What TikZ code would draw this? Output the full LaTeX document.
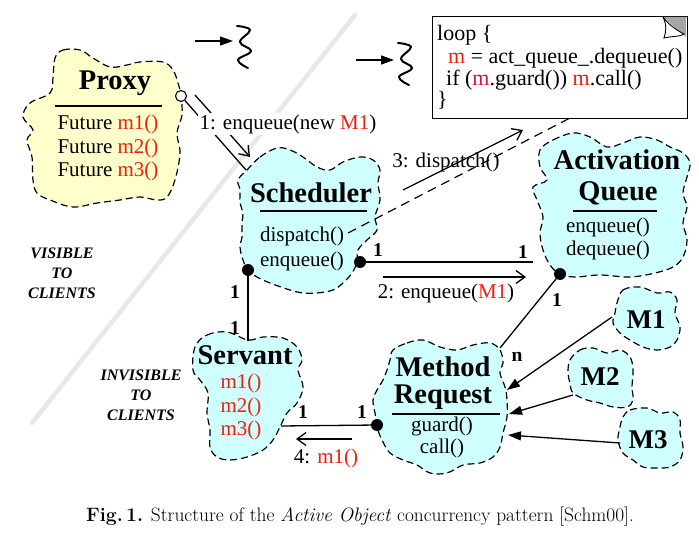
\documentclass[tikz,border=0pt]{standalone}
\usepackage{fontspec}
\newfontfamily\tms{Liberation Serif}
\usetikzlibrary{arrows.meta}
\definecolor{pfill}{RGB}{255,255,204}
\definecolor{cfill}{RGB}{208,255,255}
\definecolor{mred}{RGB}{240,30,10}
\definecolor{mmag}{RGB}{215,20,70}
\begin{document}
\begin{tikzpicture}[x=1pt,y=-1pt,
  blob/.style={draw=black, line width=1.2pt, dash pattern=on 7pt off 4pt},
  ttl/.style={font=\tms\bfseries\fontsize{28.5}{30}\selectfont, inner sep=0pt},
  mlab/.style={font=\tms\bfseries\fontsize{27}{29}\selectfont, inner sep=0pt},
  txt/.style={font=\tms\fontsize{21}{23.5}\selectfont, inner sep=0pt},
  code/.style={font=\tms\fontsize{22}{24}\selectfont, inner sep=0pt, anchor=west},
  mult/.style={font=\tms\bfseries\fontsize{19.5}{20}\selectfont, inner sep=0pt},
  side/.style={font=\tms\bfseries\itshape\fontsize{16}{19.8}\selectfont, align=center, inner sep=0pt},
  conn/.style={line width=1.3pt},
  msg/.style={line width=1.3pt, -{Straight Barb[length=9pt,width=13pt,line width=1.3pt]}},
  tri/.style={line width=1.3pt, -{Triangle[length=13pt,width=9pt]}},
  dot/.style={circle, fill=black, inner sep=0pt, minimum size=12pt},
  uline/.style={line width=1.8pt},
  squig/.style={line width=2pt, line cap=round},
  lbl/.style={txt, fill=white, inner sep=1.5pt},
]
\useasboundingbox (0,0) rectangle (699,537);
% visibility boundary
\draw[line width=4.5pt, gray!18, line cap=round] (32,423) -- (355,15);

% clouds
\draw[blob, fill=pfill] plot[smooth cycle, tension=0.6] coordinates {
 (55,58) (63,50) (80,50) (93,58) (110,67) (127,65) (140,62) (163,62) (173,70)
 (178,83) (181,96) (182,115) (177,133) (180,153) (175,180) (167,197) (157,200)
 (140,197) (120,200) (97,203) (73,207) (50,200) (37,193) (33,180) (32,157)
 (27,140) (33,130) (23,117) (30,103) (50,93) (53,77)};
\draw[blob, fill=cfill] plot[smooth cycle, tension=0.6] coordinates {
 (247,170) (260,157) (277,148) (290,150) (303,157) (317,167) (330,170) (343,162)
 (360,157) (373,160) (380,170) (378,183) (380,200) (375,217) (377,230) (367,240)
 (358,250) (357,262) (352,273) (343,283) (333,290) (317,293) (303,293) (290,290)
 (270,283) (257,277) (248,270) (243,260) (240,247) (242,237) (242,223) (243,213)
 (240,203) (240,190) (238,180)};
\draw[blob, fill=cfill] plot[smooth cycle, tension=0.6] coordinates {
 (540,150) (553,140) (573,133) (590,137) (607,147) (623,143) (640,137) (657,140)
 (670,147) (683,153) (690,163) (687,177) (683,193) (687,207) (683,223) (687,240)
 (683,257) (673,267) (655,273) (630,277) (600,275) (575,277) (560,274) (550,265)
 (543,250) (540,233) (543,217) (537,200) (533,187) (547,180) (540,167)};
\draw[blob, fill=cfill] plot[smooth cycle, tension=0.6] coordinates {
 (195,347) (207,335) (227,332) (248,340) (263,337) (283,338) (297,347) (302,360)
 (298,370) (303,387) (297,403) (287,413) (280,427) (273,440) (263,450) (247,457)
 (230,460) (217,457) (210,447) (210,430) (207,413) (208,393) (200,380) (193,370)};
\draw[blob, fill=cfill] plot[smooth cycle, tension=0.6] coordinates {
 (393,350) (407,343) (423,340) (440,347) (457,350) (473,345) (490,343) (500,350)
 (503,363) (500,373) (505,387) (507,400) (507,417) (503,433) (500,447) (493,457)
 (480,463) (463,465) (447,473) (430,473) (417,465) (403,460) (390,453) (383,442)
 (378,430) (375,413) (373,400) (377,390) (383,380) (387,370) (390,360)};
\draw[blob, fill=cfill] plot[smooth cycle, tension=0.6] coordinates {
 (617,303) (623,290) (640,287) (657,293) (670,292) (677,300) (675,313) (680,327)
 (677,340) (670,347) (657,350) (643,347) (630,340) (620,333) (613,323) (615,313)};
\draw[blob, fill=cfill] plot[smooth cycle, tension=0.6] coordinates {
 (570,360) (580,350) (593,348) (607,353) (620,350) (630,357) (633,370) (632,387)
 (633,400) (627,407) (613,407) (600,403) (587,400) (573,393) (570,383) (568,373)};
\draw[blob, fill=cfill] plot[smooth cycle, tension=0.6] coordinates {
 (623,417) (630,410) (647,408) (660,413) (673,412) (680,420) (680,433) (683,447)
 (680,460) (670,467) (657,468) (643,467) (633,460) (623,453) (618,440) (620,427)};

% loop box with dog-ear
\node[draw, line width=1.3pt, fill=white, minimum width=255pt, minimum height=102pt,
      inner sep=0pt, anchor=north west] (loopbox) at (432,16) {};
\fill[gray!70] (663,17) -- (686,17) -- (686,37) -- cycle;
\draw[line width=0.9pt, fill=white] (663,17) .. controls (667,25) and (666,32) .. (664,38)
  .. controls (672,36) and (680,37) .. (684,34) .. controls (676,30) and (668,24) .. (663,17);
\node[code] (l1) at (437,35) {loop \{};
\node[code] (l2) at (448,58) {\textcolor{mred}{m} = act\_queue\_.dequeue()};
\node[code] (l3) at (446,80) {if (\textcolor{mmag}{m}.guard()) \textcolor{mred}{m}.call()};
\node[code] (l4) at (437,100) {\}};

% squiggle threads
\coordinate (a1s) at (195,41); \coordinate (a1e) at (233,41);
\draw[tri] (a1s) -- (a1e);
\draw[squig] plot[smooth, tension=0.7] coordinates {(237,26) (250,30) (240,42) (251,51) (238,60) (248,68)};
\coordinate (a2s) at (356,60); \coordinate (a2e) at (394,60);
\draw[tri] (a2s) -- (a2e);
\draw[squig] plot[smooth, tension=0.7] coordinates {(398,43) (411,47) (401,59) (412,68) (399,77) (409,85)};

% key points
\node[circle, draw, fill=white, inner sep=0pt, minimum size=11pt, line width=1.1pt] (pcirc) at (181,96) {};
\coordinate (schedNW) at (246,170);
\coordinate (schedSW) at (248,270);
\coordinate (schedE) at (360,262);
\coordinate (servN) at (248,341);
\coordinate (aqW) at (533,262);
\coordinate (aqS) at (560,274);
\coordinate (mrNE) at (500,348);
\coordinate (mrW) at (377,425);
\coordinate (servE) at (281,426);
\coordinate (schedDisp) at (348,233);
\coordinate (loopS) at (570,118);

% connectors
\draw[conn] (pcirc) -- (schedNW);
\coordinate (m1s) at (195,95); \coordinate (m1e) at (250,157);
\draw[msg] (m1s) -- (m1e);
\draw[line width=1.2pt, dash pattern=on 9pt off 6pt] (schedDisp) -- (loopS);
\coordinate (m3s) at (403,190); \coordinate (m3e) at (523,130);
\draw[msg] (m3s) -- (m3e);
\draw[conn] (schedSW) -- (servN);
\draw[conn] (schedE) -- (aqW);
\coordinate (m2s) at (383,277); \coordinate (m2e) at (526,277);
\draw[msg] (m2s) -- (m2e);
\draw[conn] (aqS) -- (mrNE);
\draw[conn] (mrW) -- (servE);
\coordinate (m4s) at (352,439); \coordinate (m4e) at (296,439);
\draw[msg] (m4s) -- (m4e);
\node[dot] (d1) at (schedSW) {};
\node[dot] (d2) at (schedE) {};
\node[dot] (d3) at (aqS) {};
\node[dot] (d4) at (mrW) {};

% M arrows
\node[mlab] (M1) at (646,320) {M1};
\node[mlab] (M2) at (600,377) {M2};
\node[mlab] (M3) at (648,440) {M3};
\coordinate (M1s) at (612,317); \coordinate (M2s) at (573,395); \coordinate (M3s) at (620,443);
\coordinate (mr1) at (507,390); \coordinate (mr2) at (509,414); \coordinate (mr3) at (508,435);
\draw[tri] (M1s) -- (mr1);
\draw[tri] (M2s) -- (mr2);
\draw[tri] (M3s) -- (mr3);

% Proxy
\node[ttl] (proxyT) at (115,83) {Proxy};
\draw[uline] (55,106) -- (162,106);
\node[txt, align=left] (proxyB) at (108,148) {Future \textcolor{mred}{m1()}\\Future \textcolor{mred}{m2()}\\Future \textcolor{mred}{m3()}};

% Scheduler
\node[ttl] (schedT) at (311,193) {Scheduler};
\draw[uline] (260,211) -- (367,211);
\node[txt] (schedD) at (302,236) {dispatch()};
\node[txt] (schedQ) at (302,261) {enqueue()};

% Activation Queue
\node[ttl] (aqT1) at (617,160) {Activation};
\node[ttl] (aqT2) at (618,193) {Queue};
\draw[uline] (573,211) -- (657,211);
\node[txt] (aqE) at (608,227) {enqueue()};
\node[txt] (aqD) at (608,250) {dequeue()};

% Servant
\node[ttl] (servT) at (245,355) {Servant};
\node[txt, text=mred] (s1) at (241,383) {m1()};
\node[txt, text=mred] (s2) at (241,407) {m2()};
\node[txt, text=mred] (s3) at (241,430) {m3()};

% Method Request
\node[ttl, align=center, font=\tms\bfseries\fontsize{28.5}{27}\selectfont] (mrT) at (443,383) {Method\\Request};
\draw[uline] (392,414) -- (500,414);
\node[txt] (mrG) at (442,426) {guard()};
\node[txt] (mrC) at (442,448) {call()};

% message labels
\node[lbl] (lab1) at (288,124) {1: enqueue(new \textcolor{mred}{M1})};
\node[txt] (lab3) at (446,162) {3: dispatch()};
\node[txt] (lab2) at (446,293) {2: enqueue(\textcolor{mred}{M1})};
\node[txt] (lab4) at (326,458) {4: \textcolor{mred}{m1()}};

% multiplicities
\node[mult] at (235,292) {1};
\node[mult] at (235,328) {1};
\node[mult] at (378,250) {1};
\node[mult] at (523,252) {1};
\node[mult] at (557,300) {1};
\node[mult] at (517,357) {n};
\node[mult] at (362,412) {1};
\node[mult] at (303,412) {1};

% region labels
\node[side] (vis) at (62,273) {VISIBLE\\TO\\CLIENTS};
\node[side] (invis) at (141,395) {INVISIBLE\\TO\\CLIENTS};

% caption
\node[inner sep=0pt, font=\fontsize{19.4}{21}\selectfont] (cap) at (360,517)
  {\textbf{Fig.\,1.} Structure of the \textit{Active Object} concurrency pattern [Schm00].};
\end{tikzpicture}
\end{document}
